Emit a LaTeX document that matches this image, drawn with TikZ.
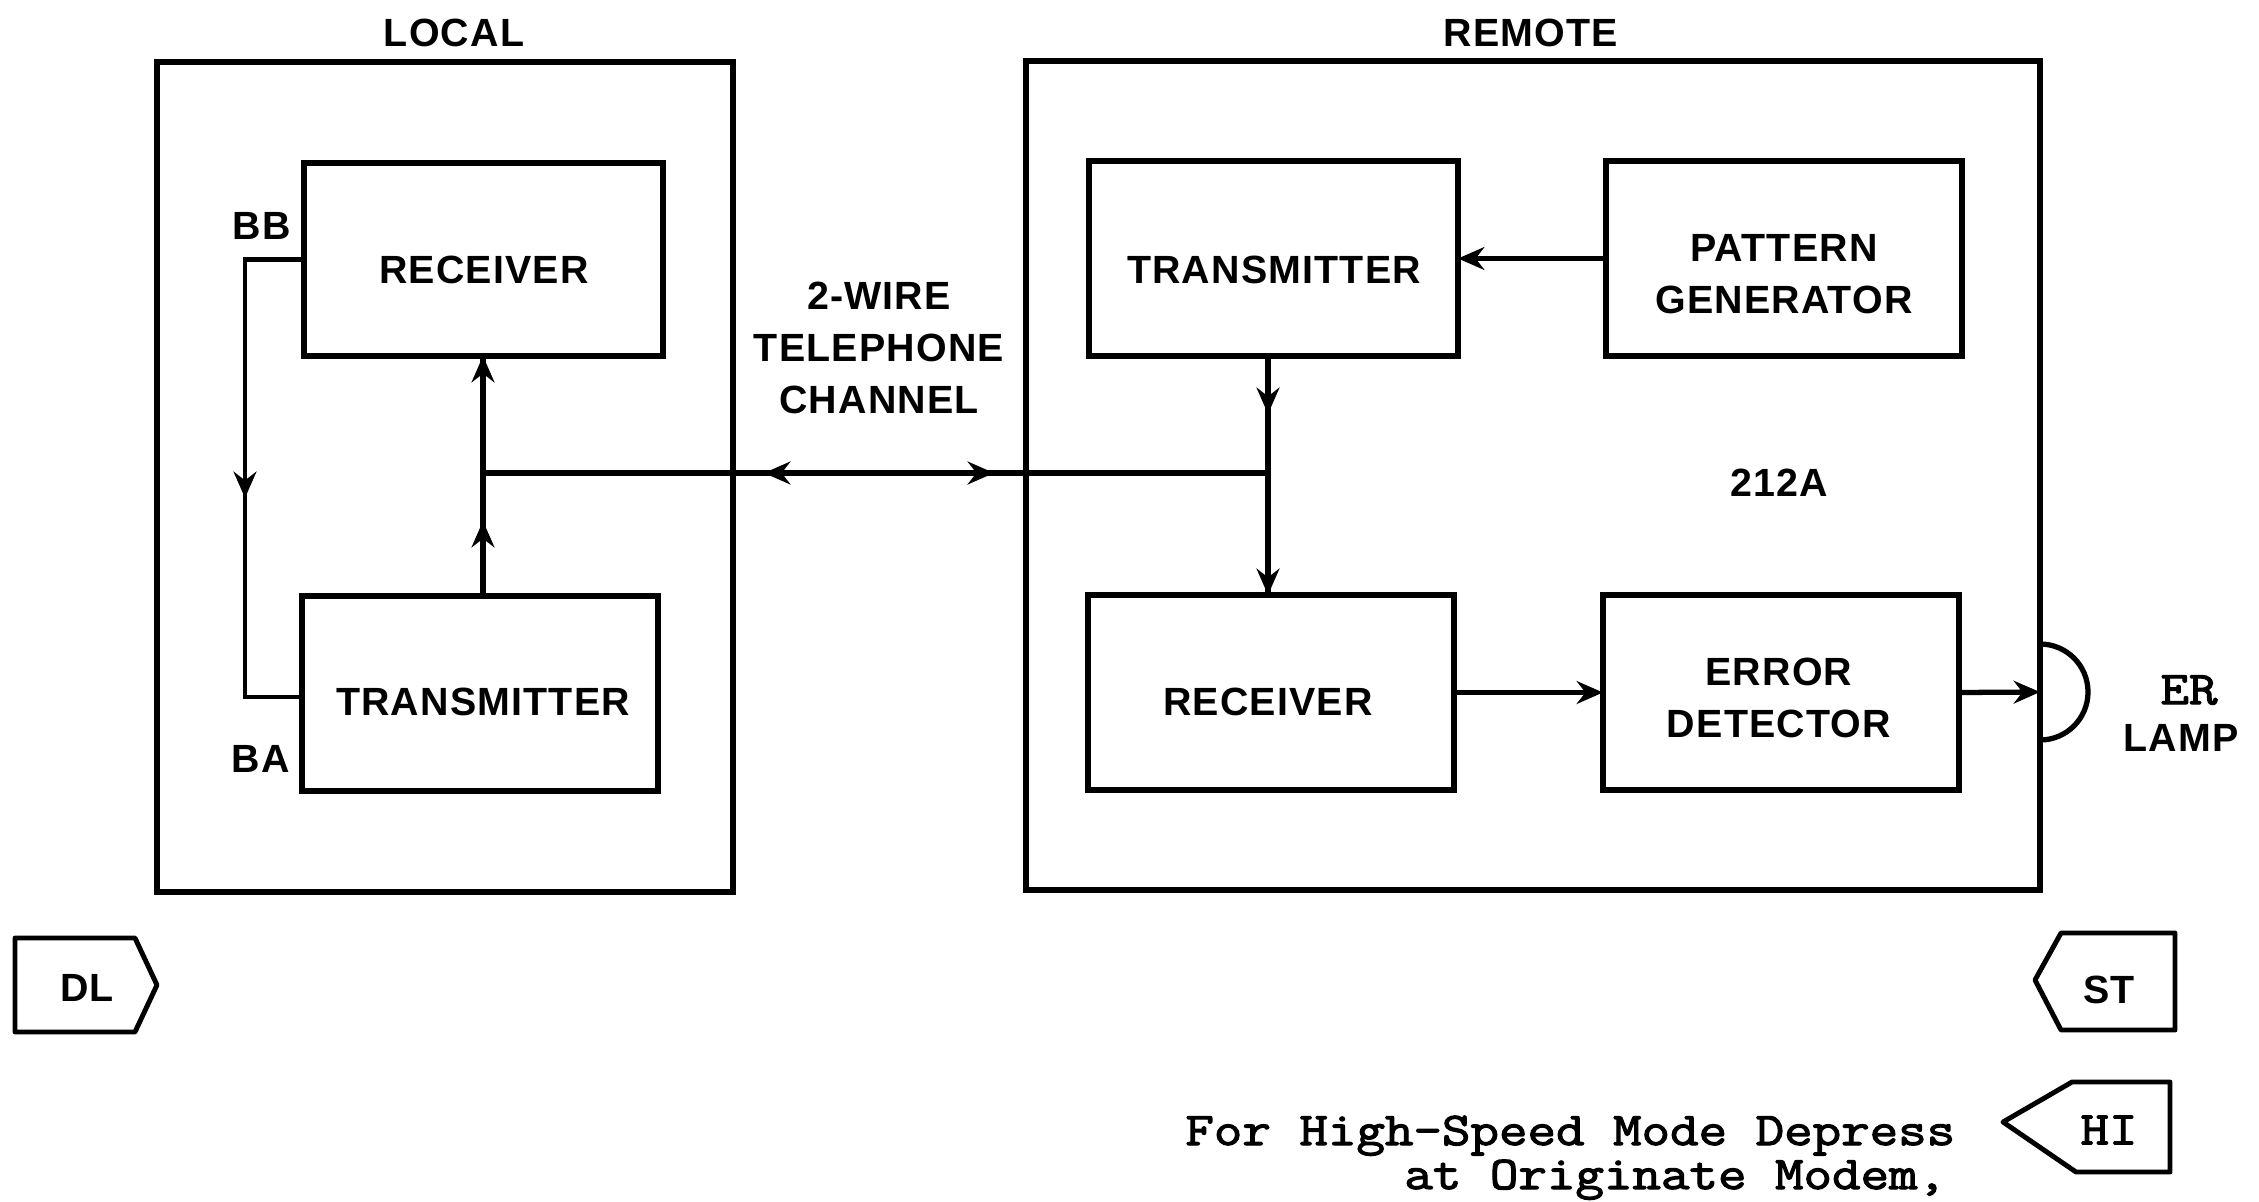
\documentclass[tikz,border=0pt]{standalone}
\usepackage{fontspec}
\setmainfont{Liberation Sans}
\newfontfamily\labfont[LetterSpace=3]{Liberation Sans Bold}
\newfontfamily\twfont[FakeStretch=1.18,FakeBold=2.5]{Latin Modern Mono}
\usetikzlibrary{arrows.meta}
\begin{document}
\begin{tikzpicture}[x=0.2mm,y=-0.2mm,
  box/.style={draw,line width=3pt,inner sep=0pt,outer sep=0pt,rectangle},
  conn/.style={line width=3pt},
  thinconn/.style={line width=2.6pt},
  arr/.style={-{Stealth[length=15pt,width=13pt,inset=5pt]}},
  lbl/.style={font=\labfont\fontsize{22.4}{29.6}\selectfont,align=center,inner sep=0pt},
  tw/.style={font=\twfont\fontsize{26.7}{32}\selectfont,inner sep=0pt},
  tag/.style={line width=2.8pt,line join=round}]
\useasboundingbox (0,0) rectangle (2259,1201);

% outer frames
\node[box,minimum width=115.2mm,minimum height=166mm] (local) at (445,477) {};
\node[box,minimum width=202.8mm,minimum height=165.8mm] (remote) at (1533,475.5) {};
\node[lbl] (localt) at (454,33) {LOCAL};
\node[lbl] (remotet) at (1531,33) {REMOTE};

% local blocks
\node[box,minimum width=71.8mm,minimum height=38.6mm] (lrx) at (483.5,259.5) {};
\node[lbl] (lrxt) at (484,270) {RECEIVER};
\node[box,minimum width=71.2mm,minimum height=39mm] (ltx) at (480,693.5) {};
\node[lbl] (ltxt) at (483,702) {TRANSMITTER};
\node[lbl] (bb) at (262,226) {BB};
\node[lbl] (ba) at (261,759) {BA};

% remote blocks
\node[box,minimum width=73.8mm,minimum height=39mm] (rtx) at (1273.5,258.5) {};
\node[lbl] (rtxt) at (1274,270) {TRANSMITTER};
\node[box,minimum width=71.2mm,minimum height=39mm] (pg) at (1784,258.5) {};
\node[lbl] (pgt) at (1784,274) {PATTERN\\GENERATOR};
\node[box,minimum width=73.2mm,minimum height=39mm] (rrx) at (1271,692.5) {};
\node[lbl] (rrxt) at (1268,702) {RECEIVER};
\node[box,minimum width=71.2mm,minimum height=39mm] (ed) at (1781,692.5) {};
\node[lbl] (edt) at (1779,698) {ERROR\\DETECTOR};

\node[lbl] (chan) at (879,348) {2-WIRE\\TELEPHONE\\CHANNEL};
\node[lbl] (model) at (1779,483) {212A};

% local loop
\coordinate (lA) at (245,259.5);
\coordinate (lArr) at (245,498);
\coordinate (lB) at (245,697);
\draw[thinconn,line join=miter] (lrx.west) -- (lA) -- (lB) -- (lB -| ltx.west);
\draw[thinconn,arr] (lA) -- (lArr);

% local vertical
\coordinate (lj) at (483,473);
\coordinate (lup) at (483,521);
\draw[conn] (ltx.north -| lj) -- (lrx.south -| lj);
\draw[conn,arr] (ltx.north -| lj) -- (lup);
\draw[conn,arr] (lj) -- (lrx.south -| lj);

% telephone channel
\coordinate (rj) at (1268,473);
\coordinate (hmid) at (880,473);
\coordinate (hl) at (764,473);
\coordinate (hr) at (994,473);
\draw[conn] (lj) -- (rj);
\draw[conn,arr] (hmid) -- (hl);
\draw[conn,arr] (hmid) -- (hr);

% remote vertical
\coordinate (rdn) at (1268,414);
\draw[conn] (rtx.south -| rj) -- (rrx.north -| rj);
\draw[conn,arr] (rtx.south -| rj) -- (rdn);
\draw[conn,arr] (rj) -- (rrx.north -| rj);
\draw[conn,arr] (pg.west) -- (rtx.east);
\draw[conn,arr] (rrx.east) -- (ed.west);

% lamp
\coordinate (lamp) at (2040,692);
\draw[conn] (2040,740) arc[start angle=90,end angle=-90,radius=48];
\draw[conn,arr] (ed.east) -- (lamp);
\node[tw] (er) at (2189,690) {ER};
\node[lbl] (lampt) at (2181,738) {LAMP};

% tags
\draw[tag] (15,938) -- (135,938) -- (157,985) -- (135,1032) -- (15,1032) -- cycle;
\node[lbl] (dl) at (87,988) {DL};
\draw[tag] (2175,933) -- (2061,933) -- (2035,980) -- (2061,1030) -- (2175,1030) -- cycle;
\node[lbl] (st) at (2109,990) {ST};
\draw[tag] (2170,1082) -- (2072,1082) -- (2003,1122) -- (2076,1172) -- (2170,1172) -- cycle;
\node[tw] (hi) at (2109,1130) {HI};

\node[tw,anchor=base west] (note1) at (1185,1145) {For High-Speed Mode Depress};
\node[tw,anchor=base west] (note2) at (1404,1189) {at Originate Modem,};
\end{tikzpicture}
\end{document}
